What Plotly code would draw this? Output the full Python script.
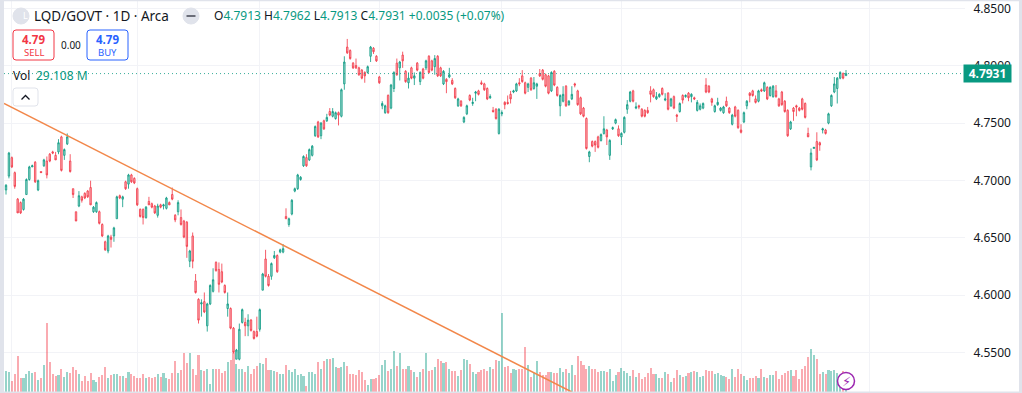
import plotly.graph_objects as go

opens = [4.691,4.703,4.719,4.706,4.683,4.680,4.674,4.687,4.700,4.711,
4.715,4.691,4.707,4.712,4.716,4.722,4.724,4.721,4.724,4.737,
4.721,4.731,4.716,4.692,4.672,4.677,4.685,4.688,4.690,4.693,
4.672,4.672,4.672,4.661,4.646,4.638,4.650,4.651,4.666,4.686,
4.683,4.698,4.696,4.704,4.701,4.692,4.674,4.674,4.667,4.681,
4.679,4.677,4.669,4.678,4.677,4.675,4.680,4.687,4.669,4.672,
4.667,4.664,4.663,4.629,4.651,4.612,4.596,4.592,4.594,4.573,
4.592,4.603,4.628,4.622,4.620,4.608,4.588,4.588,4.571,4.544,
4.544,4.576,4.576,4.573,4.578,4.568,4.568,4.570,4.604,4.631,
4.616,4.616,4.632,4.634,4.637,4.637,4.668,4.661,4.670,4.690,
4.692,4.700,4.712,4.719,4.717,4.721,4.738,4.750,4.738,4.751,
4.751,4.759,4.755,4.753,4.758,4.755,4.783,4.815,4.812,4.801,
4.799,4.797,4.795,4.793,4.793,4.807,4.814,4.807,4.789,4.764,
4.758,4.773,4.762,4.779,4.801,4.797,4.808,4.794,4.784,4.797,
4.788,4.801,4.785,4.796,4.797,4.807,4.803,4.798,4.807,4.797,
4.783,4.787,4.789,4.786,4.779,4.764,4.768,4.750,4.757,4.773,
4.766,4.775,4.777,4.784,4.783,4.779,4.771,4.760,4.761,4.740,
4.757,4.767,4.767,4.774,4.776,4.777,4.784,4.790,4.784,4.780,
4.788,4.779,4.781,4.792,4.795,4.791,4.790,4.777,4.794,4.780,
4.764,4.768,4.781,4.765,4.770,4.783,4.777,4.771,4.762,4.753,
4.720,4.733,4.733,4.737,4.734,4.740,4.743,4.721,4.744,4.749,
4.744,4.737,4.741,4.761,4.768,4.777,4.762,4.764,4.761,4.760,
4.760,4.777,4.778,4.770,4.772,4.779,4.769,4.775,4.764,4.772,
4.756,4.759,4.773,4.772,4.775,4.772,4.771,4.760,4.761,4.762,
4.782,4.781,4.770,4.759,4.765,4.760,4.758,4.768,4.762,4.748,
4.763,4.760,4.743,4.750,4.764,4.775,4.777,4.770,4.768,4.778,
4.777,4.780,4.773,4.772,4.777,4.770,4.776,4.768,4.760,4.744,
4.762,4.764,4.762,4.770,4.766,4.740,4.711,4.727,4.733,4.732,
4.743,4.743,4.749,4.764,4.776,4.779,4.788,4.792,4.7913]

closes = [4.695,4.723,4.711,4.694,4.671,4.671,4.683,4.700,4.711,4.712,
4.698,4.699,4.706,4.717,4.704,4.716,4.723,4.717,4.732,4.708,
4.726,4.737,4.707,4.687,4.664,4.686,4.682,4.684,4.685,4.678,
4.676,4.680,4.662,4.651,4.639,4.651,4.648,4.658,4.685,4.684,
4.685,4.692,4.704,4.698,4.697,4.678,4.668,4.667,4.676,4.678,
4.676,4.671,4.677,4.676,4.678,4.684,4.678,4.683,4.665,4.680,
4.661,4.650,4.642,4.638,4.629,4.602,4.578,4.593,4.585,4.592,
4.608,4.613,4.621,4.609,4.611,4.602,4.592,4.571,4.550,4.552,
4.570,4.587,4.573,4.578,4.569,4.562,4.564,4.587,4.618,4.616,
4.608,4.627,4.634,4.620,4.639,4.640,4.666,4.666,4.682,4.692,
4.704,4.702,4.720,4.712,4.726,4.729,4.746,4.737,4.749,4.744,
4.754,4.756,4.759,4.758,4.756,4.778,4.802,4.810,4.805,4.797,
4.797,4.791,4.788,4.790,4.798,4.815,4.811,4.803,4.784,4.766,
4.764,4.758,4.782,4.793,4.791,4.802,4.803,4.785,4.788,4.788,
4.790,4.795,4.793,4.788,4.803,4.793,4.795,4.805,4.790,4.790,
4.794,4.785,4.791,4.783,4.771,4.770,4.764,4.754,4.764,4.769,
4.767,4.776,4.774,4.783,4.778,4.770,4.772,4.759,4.753,4.761,
4.758,4.765,4.766,4.770,4.777,4.783,4.783,4.785,4.775,4.783,
4.778,4.784,4.783,4.790,4.787,4.781,4.775,4.793,4.782,4.773,
4.773,4.774,4.764,4.768,4.774,4.782,4.765,4.757,4.755,4.727,
4.724,4.729,4.730,4.728,4.739,4.744,4.737,4.734,4.745,4.752,
4.738,4.740,4.754,4.765,4.776,4.768,4.763,4.763,4.755,4.755,
4.758,4.774,4.772,4.772,4.774,4.774,4.770,4.761,4.770,4.762,
4.755,4.766,4.769,4.773,4.771,4.774,4.770,4.767,4.764,4.766,
4.776,4.776,4.767,4.764,4.767,4.762,4.763,4.764,4.758,4.756,
4.755,4.745,4.741,4.758,4.768,4.773,4.773,4.767,4.777,4.777,
4.784,4.770,4.780,4.781,4.772,4.764,4.765,4.759,4.738,4.750,
4.759,4.763,4.760,4.761,4.754,4.737,4.723,4.728,4.717,4.730,
4.744,4.740,4.757,4.773,4.783,4.788,4.793,4.788,4.7931]

highs = [4.696,4.724,4.720,4.707,4.684,4.681,4.684,4.701,4.712,4.713,
4.716,4.700,4.707,4.718,4.720,4.723,4.725,4.724,4.735,4.738,
4.727,4.740,4.722,4.692,4.672,4.690,4.686,4.689,4.691,4.699,
4.677,4.681,4.673,4.662,4.647,4.652,4.652,4.659,4.686,4.687,
4.686,4.699,4.705,4.705,4.702,4.693,4.675,4.675,4.677,4.685,
4.680,4.678,4.679,4.679,4.679,4.685,4.681,4.693,4.670,4.682,
4.674,4.665,4.664,4.639,4.654,4.618,4.597,4.596,4.602,4.593,
4.609,4.623,4.629,4.628,4.627,4.609,4.602,4.589,4.572,4.553,
4.575,4.588,4.580,4.583,4.579,4.569,4.581,4.588,4.619,4.639,
4.618,4.628,4.638,4.635,4.640,4.644,4.675,4.667,4.683,4.693,
4.705,4.703,4.721,4.722,4.727,4.730,4.747,4.751,4.750,4.752,
4.757,4.762,4.762,4.759,4.759,4.779,4.807,4.822,4.813,4.802,
4.805,4.798,4.796,4.794,4.799,4.816,4.815,4.808,4.790,4.768,
4.765,4.774,4.783,4.794,4.805,4.803,4.811,4.795,4.793,4.798,
4.793,4.802,4.794,4.797,4.804,4.808,4.804,4.808,4.808,4.798,
4.795,4.788,4.797,4.788,4.780,4.771,4.769,4.755,4.765,4.774,
4.771,4.777,4.778,4.786,4.784,4.780,4.774,4.763,4.762,4.762,
4.760,4.768,4.773,4.777,4.778,4.784,4.788,4.795,4.785,4.784,
4.789,4.789,4.784,4.796,4.796,4.792,4.791,4.794,4.795,4.781,
4.774,4.781,4.782,4.769,4.781,4.784,4.778,4.772,4.763,4.754,
4.725,4.734,4.734,4.738,4.740,4.755,4.744,4.735,4.746,4.753,
4.747,4.741,4.755,4.769,4.777,4.778,4.767,4.765,4.762,4.761,
4.763,4.781,4.779,4.776,4.775,4.780,4.775,4.776,4.771,4.773,
4.757,4.767,4.774,4.774,4.776,4.775,4.772,4.769,4.766,4.767,
4.788,4.782,4.771,4.765,4.771,4.763,4.764,4.772,4.763,4.757,
4.764,4.761,4.748,4.759,4.769,4.776,4.778,4.773,4.778,4.779,
4.785,4.781,4.781,4.782,4.782,4.771,4.777,4.769,4.761,4.751,
4.763,4.765,4.763,4.771,4.767,4.745,4.727,4.728,4.741,4.733,
4.745,4.744,4.758,4.774,4.789,4.789,4.794,4.793,4.7962]

lows = [4.687,4.701,4.710,4.692,4.671,4.670,4.673,4.687,4.699,4.711,
4.697,4.690,4.706,4.711,4.701,4.715,4.722,4.717,4.722,4.707,
4.717,4.730,4.706,4.684,4.664,4.676,4.680,4.683,4.684,4.678,
4.671,4.671,4.661,4.650,4.638,4.636,4.641,4.646,4.666,4.683,
4.676,4.691,4.692,4.697,4.696,4.677,4.667,4.661,4.666,4.678,
4.675,4.670,4.667,4.675,4.674,4.674,4.678,4.682,4.663,4.669,
4.660,4.649,4.632,4.624,4.623,4.601,4.575,4.581,4.584,4.568,
4.591,4.602,4.620,4.602,4.610,4.601,4.581,4.570,4.549,4.544,
4.543,4.575,4.564,4.564,4.568,4.561,4.563,4.568,4.604,4.615,
4.607,4.613,4.631,4.619,4.636,4.636,4.666,4.659,4.669,4.689,
4.691,4.699,4.711,4.711,4.716,4.720,4.737,4.736,4.735,4.743,
4.750,4.755,4.754,4.752,4.747,4.754,4.778,4.809,4.804,4.796,
4.796,4.790,4.787,4.784,4.792,4.802,4.809,4.802,4.783,4.761,
4.757,4.757,4.761,4.776,4.790,4.786,4.797,4.784,4.779,4.787,
4.782,4.794,4.782,4.787,4.795,4.792,4.794,4.791,4.789,4.789,
4.782,4.775,4.788,4.782,4.770,4.763,4.763,4.749,4.756,4.768,
4.764,4.768,4.773,4.782,4.777,4.769,4.770,4.758,4.752,4.739,
4.755,4.761,4.765,4.766,4.775,4.776,4.781,4.784,4.774,4.776,
4.777,4.778,4.770,4.789,4.786,4.780,4.774,4.776,4.781,4.772,
4.755,4.767,4.763,4.764,4.769,4.780,4.764,4.756,4.754,4.726,
4.715,4.728,4.724,4.727,4.733,4.739,4.730,4.717,4.743,4.748,
4.737,4.730,4.740,4.757,4.767,4.767,4.761,4.761,4.754,4.754,
4.757,4.767,4.771,4.769,4.771,4.773,4.768,4.760,4.763,4.761,
4.750,4.758,4.766,4.771,4.768,4.767,4.769,4.759,4.760,4.761,
4.775,4.775,4.764,4.758,4.764,4.759,4.757,4.763,4.757,4.747,
4.754,4.744,4.740,4.749,4.761,4.767,4.772,4.766,4.767,4.776,
4.776,4.769,4.772,4.771,4.771,4.763,4.764,4.758,4.737,4.743,
4.751,4.755,4.759,4.760,4.753,4.737,4.708,4.727,4.716,4.725,
4.740,4.739,4.748,4.763,4.775,4.766,4.787,4.787,4.7913]

volumes = [31,28.5,16.4,26,52,21,21,26,30,28,
29,17.4,21,39,100,43.5,26,23,24.6,34,
22,29,27.5,36,31.4,26,16.4,23,16.4,27.5,
17,14.5,22,24.6,36,21,24.6,26,26,23,
23,20,29,26,23,21,21,26,21,22,
20,22,26,22,27.5,21,19,27.5,45,27.5,
31.4,56.5,41.5,56.5,34,24.6,53,32,30,33,
11.6,33,34,33,27.5,30,43.5,46,57,40.5,
33,34,29,37.7,26,33,37.7,41.5,40.5,49,
31.4,31.4,30.4,29,25.6,26,39,31.4,29.5,33,
24.6,26,23,8.7,28.5,28.5,26,44,34,45,
48,48,49,36,35,36.7,43,37.7,26,26,
24.6,31.4,29,17,10,19,18.4,21,24.6,39,
46,30,33,59,37.7,56.5,33,33,37.7,31.4,
29,22,28.5,33,56.5,30,31.4,36.7,48,45,
42,44,33,30,30,23.7,31.4,48,47,40.5,
29,26,28.5,31.4,33,30,36.7,34,47,44.4,
115,36,37.7,27,33,31.4,34,33,65,39,
22,27.5,44.4,29,24.6,24.6,29,29,27.5,27.5,
35,29,34,27.5,39,24.6,52,44.4,39,34,
37.7,33,34,29,30,31,28.5,34,16,24,
29,35,30,27,23,31.4,21.7,27.5,18.4,21.7,
27.5,35,26,26,20,21,29,26,14.5,21,
31.4,24.6,21.7,23,27,29,30,28.5,21.7,23,
31.4,30,31,26,27,24.6,23,21.7,18.4,33,
21.7,33,26,23,17,21,20,23,21,34,
21.7,21,24.6,24.6,30.4,18.4,24.6,27,30,31.4,
23.7,31.4,18.4,33,37.7,50.7,62,53.6,48,26,
29,26,31.4,31,32,27,22,31,29.108]

sessions = list(range(len(opens)))
grid_sessions = [2, 45, 87, 128, 170, 211, 252, 296]
price_ticks = [4.85, 4.80, 4.75, 4.70, 4.65, 4.60, 4.55]
trend_sessions = [-0.7, 194]
trend_prices = [4.7671, 4.5154]

# Readings above were taken against a slightly tight axis estimate; the last bar is from the header text.
READ_CORRECTION = 1.0046

def corrected(series):
    return [round(4.55 + (p - 4.55) * READ_CORRECTION, 4) for p in series[:-1]] + series[-1:]

plot_open, plot_high, plot_low, plot_close = map(corrected, (opens, highs, lows, closes))

UP = "#089981"
DOWN = "#f23645"
W, H = 1022, 393
L, R, T, B = 4, 965, 1, 392
FONT = "Noto Sans"

def fx(p):
    return (p - L) / (R - L)

def fy(p):
    return 1 - (p - T) / (B - T)

def rrect(x0, y0, x1, y1, r=3):
    a, b, c, d = fx(x0), fx(x1), fy(y0), fy(y1)
    rx, ry = r / (R - L), r / (B - T)
    return (f"M{a+rx},{c} L{b-rx},{c} Q{b},{c} {b},{c-ry} L{b},{d+ry} Q{b},{d} {b-rx},{d} "
            f"L{a+rx},{d} Q{a},{d} {a},{d+ry} L{a},{c-ry} Q{a},{c} {a+rx},{c} Z")

def label(x, y, text, size=12, color="#131722", anchor="left", family=FONT):
    return dict(xref="paper", yref="paper", x=fx(x), y=fy(y), text=text, showarrow=False,
                xanchor=anchor, yanchor="middle", font=dict(size=size, color=color, family=family))

def path(d, line="#e0e3eb", fill="rgba(0,0,0,0)", width=1):
    return dict(type="path", xref="paper", yref="paper", path=d, layer="above",
                line=dict(color=line, width=width), fillcolor=fill)

def rect(x0, y0, x1, y1, color="#e0e3eb"):
    return dict(type="rect", xref="paper", yref="paper", x0=fx(x0), x1=fx(x1), y0=fy(y0), y1=fy(y1),
                line=dict(width=0), fillcolor=color, layer="above")

def circle(cx, cy, r, line, fill, width=1):
    return dict(type="circle", xref="paper", yref="paper", x0=fx(cx - r), x1=fx(cx + r), y0=fy(cy + r), y1=fy(cy - r),
                line=dict(color=line, width=width), fillcolor=fill, layer="above")

vol_colors = ["rgba(8,153,129,0.42)" if c >= o else "rgba(242,54,69,0.42)" for o, c in zip(opens, closes)]

fig = go.Figure()
fig.add_trace(go.Bar(x=sessions, y=volumes, marker=dict(color=vol_colors, line=dict(width=0)),
                     width=0.7, yaxis="y", hoverinfo="skip", showlegend=False))
fig.add_trace(go.Candlestick(x=sessions, open=plot_open, high=plot_high, low=plot_low, close=plot_close, yaxis="y2",
                             increasing=dict(line=dict(color="rgba(8,153,129,0.8)", width=1), fillcolor="rgba(8,153,129,0.35)"),
                             decreasing=dict(line=dict(color="rgba(242,54,69,0.8)", width=1), fillcolor="rgba(242,54,69,0.35)"),
                             whiskerwidth=0, showlegend=False, hoverinfo="skip"))
fig.add_trace(go.Scatter(x=trend_sessions, y=trend_prices, mode="lines", yaxis="y2", hoverinfo="skip",
                         line=dict(color="#f2874a", width=1.5), showlegend=False))

last = closes[-1]
ohlc = (f"<span style='color:#131722'>O</span>{opens[-1]:.4f} <span style='color:#131722'>H</span>{highs[-1]:.4f} "
        f"<span style='color:#131722'>L</span>{lows[-1]:.4f} <span style='color:#131722'>C</span>{last:.4f} "
        f"+0.0035 (+0.07%)")

annotations = [
    label(21, 16, "L", 9, "#ffffff"),
    label(31.5, 16, "LQD/GOVT · 1D · Arca", 13.5),
    label(212, 16, ohlc, 12, UP),
    label(33.5, 39.5, "<b>4.79</b>", 11.5, DOWN, "center"),
    label(33.5, 52.5, "SELL", 9.5, DOWN, "center"),
    label(70.5, 45, "0.00", 10, "#131722", "center"),
    label(107.5, 39.5, "<b>4.79</b>", 11.5, "#2962ff", "center"),
    label(107.5, 52.5, "BUY", 9.5, "#2962ff", "center"),
    label(11, 75, "Vol", 12),
    label(34, 75, "29.108 M", 12, UP),
    label(846, 381, "<b>⚡</b>", 13, "#9c27b0", "center", "DejaVu Sans"),
    dict(xref="paper", yref="y2", x=fx(987.5), y=last, text=f"<b>{last:.4f}</b>", showarrow=False,
         xanchor="center", yanchor="middle", bgcolor=UP, width=45, height=15,
         font=dict(size=12, color="#ffffff", family=FONT)),
]

shapes = [
    dict(type="line", xref="paper", yref="y2", x0=0, x1=1, y0=last, y1=last, layer="above",
         line=dict(color="rgba(8,153,129,0.8)", width=1, dash="1px,3px")),
    rect(0, 0, L, H),
    rect(0, 0, W, 1.2),
    rect(0, 391.5, W, H),
    rect(1019, 0, W, H),
    circle(21, 16, 8, "#e0e3eb", "#e0e3eb"),
    circle(191, 16, 8, "#e0e3eb", "#e0e3eb"),
    rect(186.5, 15, 195.5, 17, "#6a6d78"),
    path(rrect(13, 30, 54, 60), "#f23645", "#ffffff"),
    path(rrect(87, 30, 128, 60), "#2962ff", "#ffffff"),
    path(rrect(13, 88, 38, 106), "#e0e3eb", "#ffffff"),
    path(f"M{fx(21.5)},{fy(99.5)} L{fx(25.5)},{fy(95.5)} L{fx(29.5)},{fy(99.5)}", "#131722", "rgba(0,0,0,0)", 1.3),
    circle(846, 381, 8.5, "#9c27b0", "#ffffff", 1.5),
]

fig.update_layout(
    width=W, height=H, margin=dict(l=L, r=W - R, t=T, b=H - B, autoexpand=False),
    paper_bgcolor="#ffffff", plot_bgcolor="#ffffff", bargap=0, hovermode=False, dragmode=False,
    font=dict(family=FONT, color="#131722"),
    xaxis=dict(range=[-0.69, 328.8], rangeslider=dict(visible=False), showticklabels=False, ticks="",
               tickvals=grid_sessions, showgrid=True, gridcolor="#f2f3f7", gridwidth=1, zeroline=False, showline=False),
    yaxis=dict(range=[0, 567], visible=False, showgrid=False, zeroline=False, fixedrange=True),
    yaxis2=dict(range=[4.5154, 4.8564], overlaying="y", side="right", tickvals=price_ticks, automargin=False,
                ticktext=[f"{v:.4f}" for v in price_ticks], showgrid=True, gridcolor="#f2f3f7", gridwidth=1,
                zeroline=False, showline=False, ticks="outside", ticklen=5, tickcolor="rgba(0,0,0,0)",
                ticklabeloverflow="allow",
                tickfont=dict(size=12, color="#131722", family=FONT)),
    annotations=annotations, shapes=shapes,
)

fig.write_html("out.html", config=dict(displayModeBar=False),
               post_script="document.body.style.margin='0';document.body.style.overflow='hidden';")
